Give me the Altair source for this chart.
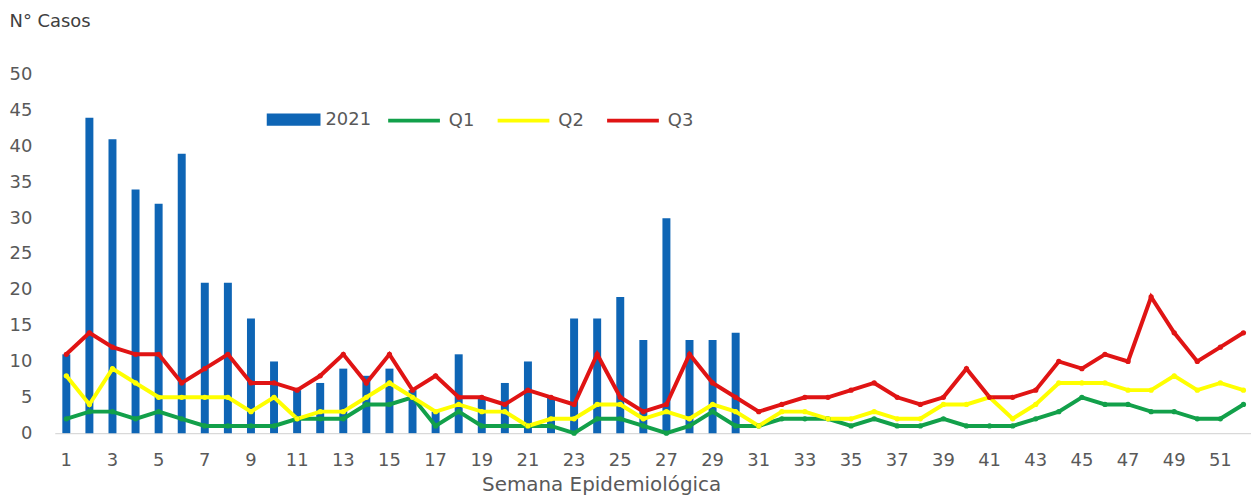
import altair as alt
import pandas as pd

semanas = list(range(1, 53))
semanas_2021 = list(range(1, 31))
casos_2021 = [11, 44, 41, 34, 32, 39, 21, 21, 16, 10,
              6, 7, 9, 8, 9, 6, 3, 11, 5, 7,
              10, 5, 16, 16, 19, 13, 30, 13, 13, 14]
q1 = [2, 3, 3, 2, 3, 2, 1, 1, 1, 1,
      2, 2, 2, 4, 4, 5, 1, 3, 1, 1,
      1, 1, 0, 2, 2, 1, 0, 1, 3, 1,
      1, 2, 2, 2, 1, 2, 1, 1, 2, 1,
      1, 1, 2, 3, 5, 4, 4, 3, 3, 2,
      2, 4]
q2 = [8, 4, 9, 7, 5, 5, 5, 5, 3, 5,
      2, 3, 3, 5, 7, 5, 3, 4, 3, 3,
      1, 2, 2, 4, 4, 2, 3, 2, 4, 3,
      1, 3, 3, 2, 2, 3, 2, 2, 4, 4,
      5, 2, 4, 7, 7, 7, 6, 6, 8, 6,
      7, 6]
q3 = [11, 14, 12, 11, 11, 7, 9, 11, 7, 7,
      6, 8, 11, 7, 11, 6, 8, 5, 5, 4,
      6, 5, 4, 11, 5, 3, 4, 11, 7, 5,
      3, 4, 5, 5, 6, 7, 5, 4, 5, 9,
      5, 5, 6, 10, 9, 11, 10, 19, 14, 10,
      12, 14]
series_lineas = ["Q1", "Q2", "Q3"]
colores_lineas = ["#12a04a", "#ffff00", "#e01414"]
color_barra = "#0e65b5"
y_ticks = list(range(0, 51, 5))
x_ticks = list(range(1, 52, 2))

FONT = "DejaVu Sans"
GRIS = "#595959"

df_bar = pd.DataFrame({"semana": semanas_2021, "casos": casos_2021, "serie": "2021"})
rows = []
for nombre, vals in zip(series_lineas, [q1, q2, q3]):
    for s, v in zip(semanas, vals):
        rows.append({"semana": s, "casos": v, "serie": nombre})
df_lin = pd.DataFrame(rows)

x_enc = alt.X(
    "semana:O",
    scale=alt.Scale(domain=semanas, paddingInner=0, paddingOuter=0, range=[0, 1206]),
    axis=alt.Axis(
        values=x_ticks, labelAngle=0, title="Semana Epidemiológica",
        labelFont=FONT, labelFontSize=18, labelColor=GRIS, labelPadding=19,
        ticks=False, domainColor="#d9d9d9", domainWidth=1.5,
        titleFont=FONT, titleFontSize=20, titleFontWeight="normal", titleColor=GRIS,
        titleX=549, titleY=57.5, titleAlign="center", titleBaseline="alphabetic",
        grid=False,
    ),
)
y_enc = alt.Y(
    "casos:Q",
    scale=alt.Scale(domain=[0, 50], nice=False),
    axis=alt.Axis(
        values=y_ticks, title="N° Casos", grid=False, domain=False, ticks=False,
        labelFont=FONT, labelFontSize=18, labelColor=GRIS, labelPadding=23,
        titleFont=FONT, titleFontSize=18, titleFontWeight="normal", titleColor="#404040",
        titleAngle=0, titleX=-46, titleY=-54, titleAlign="left", titleBaseline="middle",
    ),
)

bars = alt.Chart(df_bar).mark_bar(width=8).encode(
    x=x_enc,
    y=y_enc,
    fill=alt.Fill(
        "serie:N",
        scale=alt.Scale(domain=["2021"], range=[color_barra]),
        legend=alt.Legend(
            orient="none", legendX=213, legendY=18, direction="horizontal", title=None,
            symbolType="M-1,-0.23L1,-0.23L1,0.23L-1,0.23Z", symbolSize=2916,
            symbolStrokeWidth=0, labelFont=FONT, labelFontSize=18, labelColor=GRIS,
            labelOffset=5,
        ),
    ),
)

lines = alt.Chart(df_lin).mark_line(
    strokeWidth=4, point=alt.OverlayMarkDef(filled=True, size=28)
).encode(
    x=x_enc,
    y=y_enc,
    color=alt.Color(
        "serie:N",
        scale=alt.Scale(domain=series_lineas, range=colores_lineas),
        legend=alt.Legend(
            orient="none", legendX=333, legendY=18, direction="horizontal", title=None,
            symbolType="stroke", symbolSize=2704, symbolStrokeWidth=4,
            labelFont=FONT, labelFontSize=18, labelColor=GRIS, labelOffset=7,
            columnPadding=15,
        ),
    ),
    order=alt.Order("serie:N"),
)

chart = alt.layer(bars, lines).resolve_scale(fill="independent", color="independent").properties(
    width=1202,
    height=360,
    autosize=alt.AutoSizeParams(type="none"),
    padding={"left": 47, "top": 66, "right": 0, "bottom": 62},
    background="white",
).configure_view(stroke=None)

chart.save("out.html", embed_options={"renderer": "svg", "actions": False})
